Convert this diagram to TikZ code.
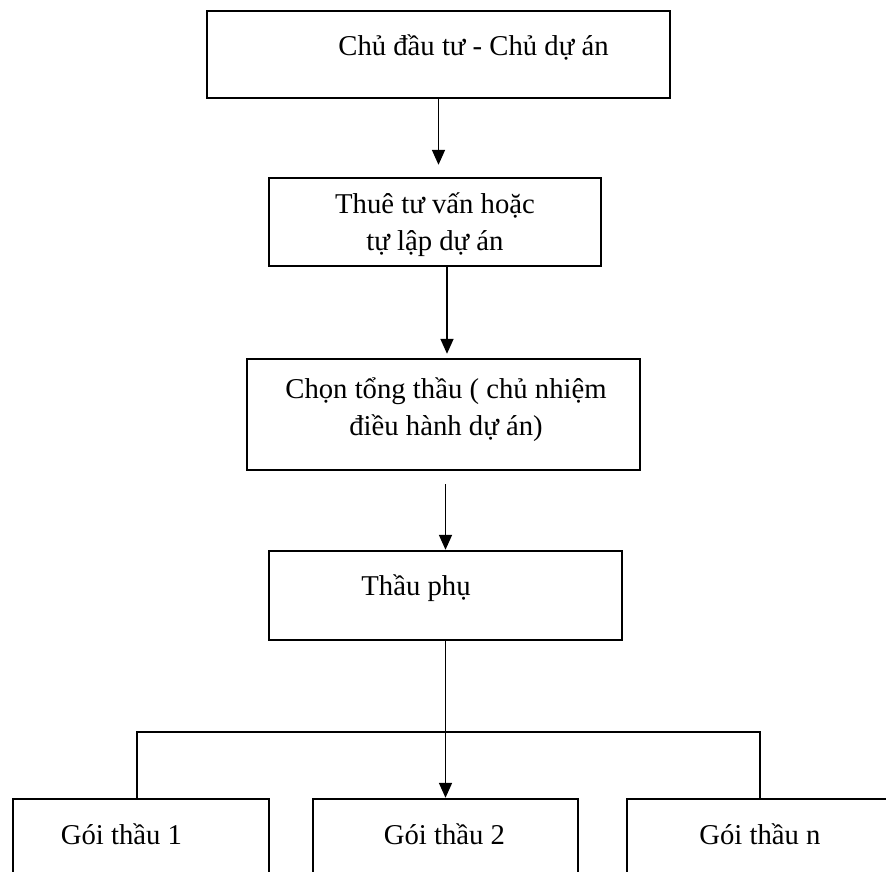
\documentclass[tikz,border=0pt]{standalone}
\usepackage{fontspec}
\setmainfont{Liberation Serif}
\usetikzlibrary{arrows.meta}

\tikzset{
  box/.style={draw, line width=2.4pt, inner sep=0pt},
  lbl/.style={anchor=base, inner sep=0pt, align=center,
    font=\fontsize{28.7}{37}\selectfont},
  link/.style={line width=1.7pt},
  arrow/.style={link, -{Triangle[length=15pt, width=13pt]}}
}

\begin{document}
\begin{tikzpicture}[x=1pt, y=-1pt]
    \path[use as bounding box, clip] (0,0) rectangle (886,872);
    % boxes
    \node[box, minimum width=463pt, minimum height=87pt] (owner) at (438.5, 54.5) {};
    \node[box, minimum width=332pt, minimum height=88pt] (consult) at (435, 222) {};
    \node[box, minimum width=393pt, minimum height=111pt] (general) at (443.5, 414.5) {};
    \node[box, minimum width=353pt, minimum height=89pt] (sub) at (445.5, 595.5) {};
    \node[box, minimum width=256pt, minimum height=120pt] (pkgA) at (141, 859) {};
    \node[box, minimum width=265pt, minimum height=120pt] (pkgB) at (445.5, 859) {};
    \node[box, minimum width=266pt, minimum height=120pt] (pkgN) at (760, 859) {};
    % texts
    \node[lbl] (ownerT) at (473.5, 56) {Chủ đầu tư - Chủ dự án};
    \node[lbl] (consultT) at (435, 250) {Thuê tư vấn hoặc\\tự lập dự án};
    \node[lbl] (generalT) at (446, 435) {Chọn tổng thầu ( chủ nhiệm\\điều hành dự án)};
    \node[lbl] (subT) at (416, 595) {Thầu phụ};
    \node[lbl] (pkgAT) at (121.5, 844) {Gói thầu 1};
    \node[lbl] (pkgBT) at (444.5, 844) {Gói thầu 2};
    \node[lbl] (pkgNT) at (760, 844) {Gói thầu n};
    % connectors
    \draw[arrow, shorten >=12pt] (owner.south) -- (owner.south |- consult.north);
    \draw[arrow, shorten >=4pt] ([xshift=12pt]consult.south) -- ([xshift=12pt]consult.south |- general.north);
    \draw[arrow, shorten <=13pt] (general.south -| sub.south) -- (sub.north);
    \draw[arrow] (sub.south) -- (pkgB.north);
    \coordinate (fork) at (445.5, 732);
    \draw[link] ([xshift=-4pt]pkgA.north) |- (fork) -| (pkgN.north);
\end{tikzpicture}
\end{document}
